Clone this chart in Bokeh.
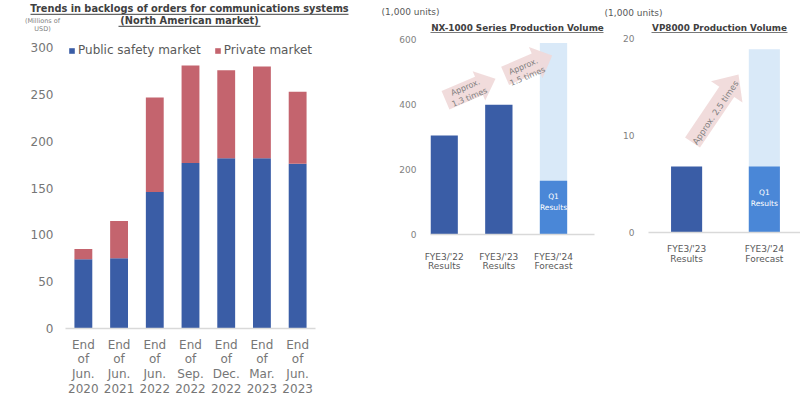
import math
from bokeh.plotting import figure
from bokeh.models import (Range1d, FixedTicker, Label, Legend, LegendItem,
                          ColumnDataSource)
from bokeh.layouts import row, column
from bokeh.embed import file_html
from bokeh.resources import INLINE

# ---------------- data ----------------
backlog_periods = ["End\nof\nJun.\n2020", "End\nof\nJun.\n2021", "End\nof\nJun.\n2022",
                   "End\nof\nSep.\n2022", "End\nof\nDec.\n2022", "End\nof\nMar.\n2023",
                   "End\nof\nJun.\n2023"]
public_safety = [74, 75, 146, 177, 182, 182, 176]
private_market = [11, 40, 101, 104, 94, 98, 77]
backlog_ticks = [0, 50, 100, 150, 200, 250, 300]

nx_periods = ["FYE3/'22\nResults", "FYE3/'23\nResults", "FYE3/'24\nForecast"]
nx_results = [305, 400, 0]
nx_q1_results = [0, 0, 166]
nx_forecast = [0, 0, 590]
nx_ticks = [0, 200, 400, 600]
nx_growth = ["Approx.\n1.3 times", "Approx.\n1.5 times"]

vp_periods = ["FYE3/'23\nResults", "FYE3/'24\nForecast"]
vp_results = [6.8, 0]
vp_q1_results = [0, 6.8]
vp_forecast = [0, 18.9]
vp_ticks = [0, 10, 20]
vp_growth = ["Approx. 2.5 times"]

# ---------------- style ----------------
DARK = "#3A5DA6"
PINK = "#C4646E"
LIGHT = "#D9E9F8"
MID = "#4A87D7"
ARROW_FILL = "#EFD8D8"
TITLE_C = "#404040"
TEXT_C = "#595959"
TICK_C = "#7F7F7F"
LEFT_LABEL_C = "#767676"
FONT = "DejaVu Sans"
W, H = 800, 397
HDR = 33            # height of the heading strip
CH = H - HDR        # height of the chart row


class Frame:
    """Frame geometry; page y positions are converted to data units."""
    def __init__(self, left, fw, fh, x0, x1, y1):
        self.left, self.fw, self.fh = left, fw, fh
        self.x0, self.x1, self.y1 = x0, x1, y1

    def dx(self, fx):
        return self.x0 + (fx - self.left) * (self.x1 - self.x0) / self.fw

    def dy(self, py):
        return (self.fh - (py - HDR)) * self.y1 / self.fh


def make_fig(width, fr):
    p = figure(width=width, height=CH, frame_width=fr.fw, frame_height=fr.fh,
               x_range=Range1d(fr.x0, fr.x1), y_range=Range1d(0, fr.y1),
               min_border_left=fr.left, min_border_right=width - fr.left - fr.fw,
               min_border_top=0, min_border_bottom=CH - fr.fh,
               output_backend="svg", toolbar_location=None)
    p.title.visible = False
    p.xgrid.visible = False
    p.ygrid.visible = False
    p.outline_line_color = None
    for ax in (p.xaxis, p.yaxis):
        ax.major_tick_line_color = None
        ax.minor_tick_line_color = None
        ax.major_tick_out = 0
        ax.major_tick_in = 0
        ax.minor_tick_out = 0
        ax.minor_tick_in = 0
        ax.major_label_text_font = FONT
    p.yaxis.axis_line_color = None
    p.xaxis.axis_line_color = "#D9D9D9"
    p.xaxis.axis_line_width = 1.5
    return p


def label(p, x, y, text, size, color, bold=False, angle=0.0):
    p.add_layout(Label(x=x, y=y, text=text, angle=angle, angle_units="rad",
                       text_align="center", text_baseline="middle",
                       text_font=FONT, text_font_size=size, text_color=color,
                       text_font_style="bold" if bold else "normal"))


def block_arrow(p, fr, tail, tip, shaft, head_w, head_len):
    sx = fr.fw / (fr.x1 - fr.x0)
    sy = fr.fh / fr.y1
    X0, Y0 = tail[0] * sx, tail[1] * sy
    X1, Y1 = tip[0] * sx, tip[1] * sy
    L = math.hypot(X1 - X0, Y1 - Y0)
    ux, uy = (X1 - X0) / L, (Y1 - Y0) / L
    nx, ny = -uy, ux
    bx, by = X1 - ux * head_len, Y1 - uy * head_len
    pts = [(X0 + nx * shaft, Y0 + ny * shaft), (bx + nx * shaft, by + ny * shaft),
           (bx + nx * head_w, by + ny * head_w), (X1, Y1),
           (bx - nx * head_w, by - ny * head_w), (bx - nx * shaft, by - ny * shaft),
           (X0 - nx * shaft, Y0 - ny * shaft)]
    p.patch([q[0] / sx for q in pts], [q[1] / sy for q in pts],
            fill_color=ARROW_FILL, fill_alpha=0.9, line_color=None)


# ================= heading strip (titles and unit notes) =================
hdr = figure(width=W, height=HDR, x_range=Range1d(0, W), y_range=Range1d(HDR, 0),
             x_axis_type=None, y_axis_type=None, min_border_left=0, min_border_right=0,
             min_border_top=0, min_border_bottom=0, output_backend="svg",
             toolbar_location=None)
hdr.title.visible = False
hdr.outline_line_color = None
label(hdr, 189, 8, "Trends in backlogs of orders for communications systems",
      "9.8px", TITLE_C, bold=True)
label(hdr, 189, 20, "(North American market)", "9.8px", TITLE_C, bold=True)
label(hdr, 42, 20.5, "(Millions of", "6.5px", TICK_C)
label(hdr, 42, 28, "USD)", "6.5px", TICK_C)
label(hdr, 410, 11, "(1,000 units)", "9px", TEXT_C)
label(hdr, 517, 27.5, "NX-1000 Series Production Volume", "8.8px", TITLE_C, bold=True)
label(hdr, 633, 12, "(1,000 units)", "9px", TEXT_C)
label(hdr, 719, 27.5, "VP8000 Production Volume", "8.8px", TITLE_C, bold=True)
hdr.segment(x0=[30, 118, 430, 651], x1=[348, 260, 603, 787],
            y0=[13.8, 25.8, 32.3, 32.3], y1=[13.8, 25.8, 32.3, 32.3],
            line_color=TITLE_C, line_width=1)

# ================= left chart: backlog =================
fr1 = Frame(left=65, fw=250, fh=295, x0=-0.5, x1=len(backlog_periods) - 0.5, y1=295 / 0.9357)
p1 = make_fig(372, fr1)
xs1 = list(range(len(backlog_periods)))
src1 = ColumnDataSource(dict(x=xs1, public=public_safety, private=private_market))
rs = p1.vbar_stack(["public", "private"], x="x", width=0.5, color=[DARK, PINK],
                   line_color=None, source=src1)
p1.yaxis.ticker = FixedTicker(ticks=backlog_ticks)
p1.yaxis.major_label_text_font_size = "12px"
p1.yaxis.major_label_text_color = LEFT_LABEL_C
p1.yaxis.major_label_standoff = 12
p1.xaxis.ticker = FixedTicker(ticks=xs1)
p1.xaxis.major_label_overrides = {i: c for i, c in enumerate(backlog_periods)}
p1.xaxis.major_label_text_font_size = "12px"
p1.xaxis.major_label_text_color = LEFT_LABEL_C
p1.xaxis.major_label_text_line_height = 1.07
p1.xaxis.major_label_standoff = 9

legend = Legend(items=[LegendItem(label="Public safety market", renderers=[rs[0]]),
                       LegendItem(label="Private market", renderers=[rs[1]])],
                location=(3, 271), orientation="horizontal", border_line_color=None,
                background_fill_alpha=0, padding=0, margin=0, spacing=13,
                glyph_width=7, glyph_height=7, label_standoff=3, label_height=12,
                label_text_font=FONT, label_text_font_size="12px",
                label_text_color=TEXT_C, label_text_baseline="middle")
p1.add_layout(legend)

# ================= middle chart: NX-1000 =================
fr2 = Frame(left=58, fw=164, fh=201, x0=-0.25, x1=len(nx_periods) - 0.25, y1=201 / 0.3245)
p2 = make_fig(232, fr2)
xs2 = list(range(len(nx_periods)))
src2 = ColumnDataSource(dict(x=xs2, res=nx_results, q1=nx_q1_results, fc=nx_forecast))
p2.vbar(x="x", top="fc", width=0.5, color=LIGHT, line_color=None, source=src2)
p2.vbar(x="x", top="q1", width=0.5, color=MID, line_color=None, source=src2)
p2.vbar(x="x", top="res", width=0.5, color=DARK, line_color=None, source=src2)
p2.yaxis.ticker = FixedTicker(ticks=nx_ticks)
p2.yaxis.major_label_text_font_size = "9px"
p2.yaxis.major_label_text_color = TICK_C
p2.yaxis.major_label_standoff = 14
p2.xaxis.ticker = FixedTicker(ticks=xs2)
p2.xaxis.major_label_overrides = {i: c for i, c in enumerate(nx_periods)}
p2.xaxis.major_label_text_font_size = "9px"
p2.xaxis.major_label_text_color = TEXT_C
p2.xaxis.major_label_text_line_height = 0.95
p2.xaxis.major_label_standoff = 17

o2 = 372  # page x of this figure
block_arrow(p2, fr2, (fr2.dx(445 - o2), fr2.dy(99.7)), (fr2.dx(495 - o2), fr2.dy(78.3)), 10, 16, 18)
block_arrow(p2, fr2, (fr2.dx(504.6 - o2), fr2.dy(75.4)), (fr2.dx(551.7 - o2), fr2.dy(55)), 10, 17, 18)
label(p2, fr2.dx(467 - o2), fr2.dy(92), nx_growth[0], "8px", TICK_C, angle=math.radians(23))
label(p2, fr2.dx(525 - o2), fr2.dy(71), nx_growth[1], "8px", TICK_C, angle=math.radians(23))
label(p2, 2, fr2.dy(201.5), "Q1\nResults", "7.5px", "white")

# ================= right chart: VP8000 =================
fr3 = Frame(left=44, fw=152, fh=199, x0=-0.49, x1=1.465, y1=199 / 9.7)
p3 = make_fig(196, fr3)
xs3 = list(range(len(vp_periods)))
src3 = ColumnDataSource(dict(x=xs3, res=vp_results, q1=vp_q1_results, fc=vp_forecast))
p3.vbar(x="x", top="fc", width=0.4, color=LIGHT, line_color=None, source=src3)
p3.vbar(x="x", top="q1", width=0.4, color=MID, line_color=None, source=src3)
p3.vbar(x="x", top="res", width=0.4, color=DARK, line_color=None, source=src3)
p3.yaxis.ticker = FixedTicker(ticks=vp_ticks)
p3.yaxis.major_label_text_font_size = "9px"
p3.yaxis.major_label_text_color = TICK_C
p3.yaxis.major_label_standoff = 14
p3.xaxis.ticker = FixedTicker(ticks=xs3)
p3.xaxis.major_label_overrides = {i: c for i, c in enumerate(vp_periods)}
p3.xaxis.major_label_text_font_size = "9px"
p3.xaxis.major_label_text_color = TEXT_C
p3.xaxis.major_label_text_line_height = 1.05
p3.xaxis.major_label_standoff = 11

o3 = 604
block_arrow(p3, fr3, (fr3.dx(692 - o3), fr3.dy(142)), (fr3.dx(738 - o3), fr3.dy(74)), 9, 19, 21)
label(p3, fr3.dx(715 - o3), fr3.dy(112), vp_growth[0], "8.5px", TICK_C, angle=math.radians(56))
label(p3, 1, fr3.dy(197.5), "Q1\nResults", "7.5px", "white")

layout = column(hdr, row(p1, p2, p3, spacing=0), spacing=0)
open("out.html", "w").write(file_html(layout, INLINE))
